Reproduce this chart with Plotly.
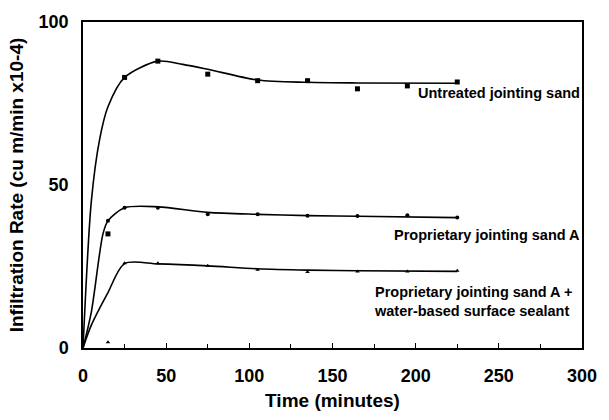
import plotly.graph_objects as go

# Measured data points
time_pts = [0, 15, 25, 45, 75, 105, 135, 165, 195, 225]
untreated_pts = [0, 35, 83, 88, 84, 82, 82, 79.5, 80.4, 81.6]
propA_pts = [0, 39, 43, 43, 41, 41, 40.6, 40.5, 40.7, 40]
propA_seal_pts = [0, 1.8, 26, 26, 25.2, 24, 23.3, 23.5, 23.5, 23.7]

# Fitted curves
curve_t_untreated = [0, 5, 10, 15, 25, 45, 60, 75, 105, 135, 165, 225]
curve_untreated = [0, 45, 64, 74, 83, 88, 87, 85.5, 82.2, 81.5, 81.3, 81.2]
curve_t_propA = [0, 5, 12, 15, 25, 45, 75, 105, 135, 165, 225]
curve_propA = [0, 11, 35, 39, 43, 43.3, 41.6, 41, 40.6, 40.4, 40]
curve_t_seal = [0, 5, 15, 25, 45, 75, 105, 135, 165, 225]
curve_seal = [0, 7, 17, 25.9, 25.8, 25.2, 24.3, 23.9, 23.7, 23.5]

x_ticks = [0, 50, 100, 150, 200, 250, 300]
y_ticks = [0, 50, 100]

labels = ["Untreated jointing sand", "Proprietary jointing sand A",
          "Proprietary jointing sand A +<br>water-based surface sealant"]
label_x = [300, 300, 296]
label_y = [78.3, 34.6, 14.2]

FONT = "Liberation Sans, Arial"

fig = go.Figure()
for ct, cv in [(curve_t_untreated, curve_untreated), (curve_t_propA, curve_propA), (curve_t_seal, curve_seal)]:
    fig.add_trace(go.Scatter(x=ct, y=cv, mode="lines", line=dict(color="black", width=1.6, shape="spline", smoothing=0.8),
                             showlegend=False, hoverinfo="skip"))
fig.add_trace(go.Scatter(x=time_pts[1:], y=untreated_pts[1:], mode="markers",
                         marker=dict(symbol="square", size=5, color="black"), showlegend=False))
fig.add_trace(go.Scatter(x=time_pts[1:], y=propA_pts[1:], mode="markers",
                         marker=dict(symbol="circle", size=4, color="black"), showlegend=False))
fig.add_trace(go.Scatter(x=time_pts[1:], y=propA_seal_pts[1:], mode="markers",
                         marker=dict(symbol="triangle-up", size=4, color="black"), showlegend=False))

for txt, xx, yy in zip(labels, label_x, label_y):
    fig.add_annotation(x=xx, y=yy, text="<b>" + txt + "</b>", showarrow=False, xanchor="right",
                       align="left", font=dict(family=FONT, size=14.5, color="black"))

fig.update_layout(
    width=609, height=420, margin=dict(l=83, r=16, t=13, b=70),
    plot_bgcolor="white", paper_bgcolor="white",
    font=dict(family=FONT, color="black"),
)
fig.update_xaxes(range=[0, 300], tickvals=x_ticks, ticktext=["<b>%d</b>" % v for v in x_ticks],
                 tickfont=dict(size=18), showline=True, linecolor="black", linewidth=1.5, mirror=True,
                 showgrid=False, zeroline=False, ticks="inside", ticklen=5, tickcolor="black",
                 ticklabelstandoff=11,
                 minor=dict(tickvals=[25, 75, 125, 175, 225, 275], ticks="inside", ticklen=4, tickcolor="black"),
                 title=dict(text="<b>Time (minutes)</b>", font=dict(size=19), standoff=8))
fig.update_yaxes(range=[0, 100], tickvals=y_ticks, ticktext=["<b>%d</b>" % v for v in y_ticks],
                 tickfont=dict(size=18), showline=True, linecolor="black", linewidth=1.5, mirror=True,
                 showgrid=False, zeroline=False, ticks="", ticklabelstandoff=9,
                 title=dict(text="<b>Infiltration Rate (cu m/min x10-4)</b>", font=dict(size=19), standoff=10))

fig.write_html("out.html")
